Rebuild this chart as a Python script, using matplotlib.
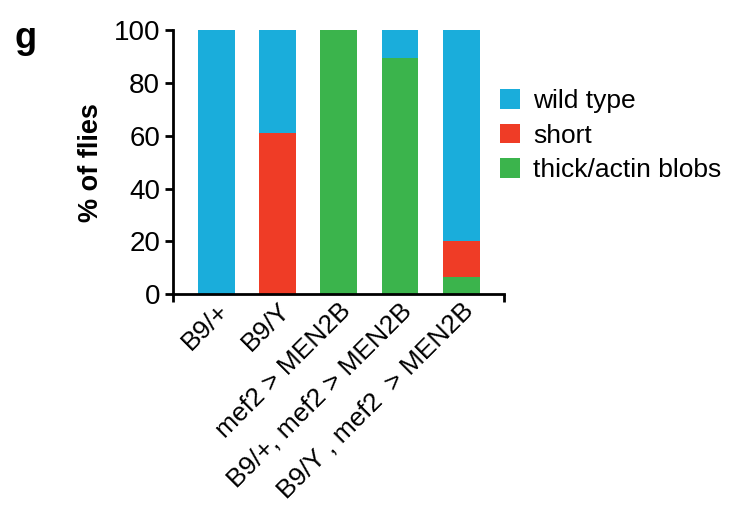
import matplotlib
matplotlib.use("Agg")
import matplotlib.pyplot as plt
from matplotlib.patches import Patch
import numpy as np

plt.rcParams['font.family'] = ['Liberation Sans', 'DejaVu Sans']

categories = ["B9/+", "B9/Y", "mef2 > MEN2B", "B9/+, mef2 > MEN2B", "B9/Y , mef2  > MEN2B"]
thick_actin = [0, 0, 100, 89.5, 6.5]
short = [0, 61, 0, 0, 13.5]
wild_type = [100, 39, 0, 10.5, 80]
series_names = ["wild type", "short", "thick/actin blobs"]
yticks = [0, 20, 40, 60, 80, 100]

c_wt = "#1AADDB"
c_short = "#EF3C26"
c_thick = "#3BB44C"

fig = plt.figure(figsize=(7.33, 5.07), dpi=100)
ax = fig.add_axes([0.2356, 0.4195, 0.452, 0.5213])

x = np.arange(len(categories))
w = 0.6
b1 = np.array(thick_actin)
b2 = b1 + np.array(short)
ax.bar(x, thick_actin, w, color=c_thick, linewidth=0)
ax.bar(x, short, w, bottom=b1, color=c_short, linewidth=0)
ax.bar(x, wild_type, w, bottom=b2, color=c_wt, linewidth=0)

ax.set_xlim(-0.71, 4.70)
ax.set_ylim(0, 100)
ax.set_yticks(yticks)
ax.set_yticklabels([str(v) for v in yticks], fontsize=20)
ax.set_xticks(x)
ax.set_xticklabels(categories, rotation=45, ha='right', rotation_mode='anchor', fontsize=19)
ax.tick_params(axis='x', which='major', length=0, pad=3)
ax.set_xticks([-0.71, 4.70], minor=True)
ax.tick_params(axis='x', which='minor', length=6, width=2, direction='out')
ax.tick_params(axis='y', length=6, width=2, direction='out', pad=3)
for s in ['top', 'right']:
    ax.spines[s].set_visible(False)
for s in ['left', 'bottom']:
    ax.spines[s].set_linewidth(2)
ax.set_ylabel("% of flies", fontsize=19.5, fontweight='bold', labelpad=7)

handles = [Patch(facecolor=c_wt, label=series_names[0]),
           Patch(facecolor=c_short, label=series_names[1]),
           Patch(facecolor=c_thick, label=series_names[2])]
leg = fig.legend(handles=handles, loc='upper left', bbox_to_anchor=(0.65, 0.871),
                 frameon=False, fontsize=19, handlelength=0.75, handleheight=0.75,
                 handletextpad=0.5, labelspacing=0.4)

fig.text(0.02, 0.905, "g", fontsize=26, fontweight='bold')

fig.savefig("out.png", dpi=100)
